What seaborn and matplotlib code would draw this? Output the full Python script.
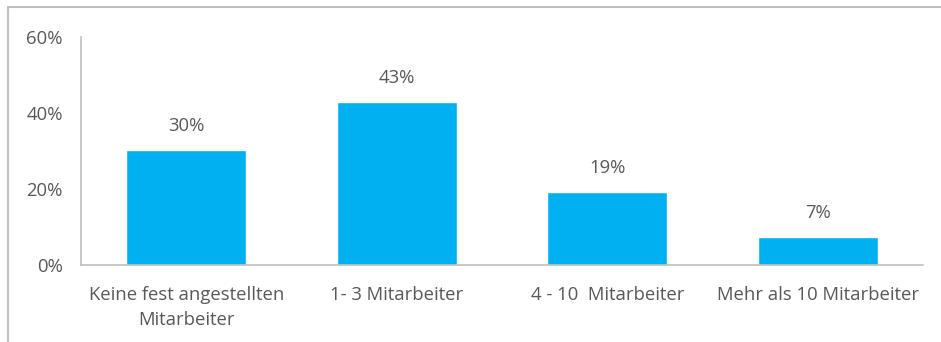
import matplotlib
matplotlib.use("Agg")
import matplotlib.pyplot as plt
import seaborn as sns
import pandas as pd
from matplotlib.patches import Rectangle

categories = ["Keine fest angestellten\nMitarbeiter", "1- 3 Mitarbeiter", "4 - 10  Mitarbeiter", "Mehr als 10 Mitarbeiter"]
values = [30.3, 42.9, 19.2, 7.4]
value_labels = ["30%", "43%", "19%", "7%"]
yticks = [0, 20, 40, 60]
ytick_labels = ["0%", "20%", "40%", "60%"]

sns.set_style("white")
plt.rcParams['font.family'] = ['Open Sans', 'DejaVu Sans']

fig = plt.figure(figsize=(9.41, 3.42), dpi=100)
ax = fig.add_axes([81/941, 1 - 265/342, (923-81)/941, (265-37)/342])

df = pd.DataFrame({"cat": categories, "val": values})
sns.barplot(data=df, x="cat", y="val", color="#00B0F0", saturation=1, width=0.57, ax=ax)

ax.set_xlim(-0.5, 3.5)
ax.set_ylim(0, 60)
ax.set_yticks(yticks)
ax.set_yticklabels(ytick_labels)
ax.set_xlabel("")
ax.set_ylabel("")
fs = 13.3
ax.tick_params(axis="both", length=0, labelsize=fs, colors="#595959")
ax.tick_params(axis="y", pad=13)
ax.tick_params(axis="x", pad=15)
for t in ax.get_xticklabels():
    t.set_linespacing(1.5)

for s in ["top", "right"]:
    ax.spines[s].set_visible(False)
for s in ["left", "bottom"]:
    ax.spines[s].set_color("#BFBFBF")
    ax.spines[s].set_linewidth(1.2)

for i, (v, lab) in enumerate(zip(values, value_labels)):
    ax.annotate(lab, (i, v), xytext=(0, 17), textcoords="offset points",
                ha="center", va="center", fontsize=fs, color="#595959")

fig.patches.append(Rectangle((8/941, -0.1), 1.2, 1 - 7/342 + 0.1, transform=fig.transFigure,
                             fill=False, edgecolor="#BFBFBF", linewidth=1.5))

fig.savefig("out.png", dpi=100)
